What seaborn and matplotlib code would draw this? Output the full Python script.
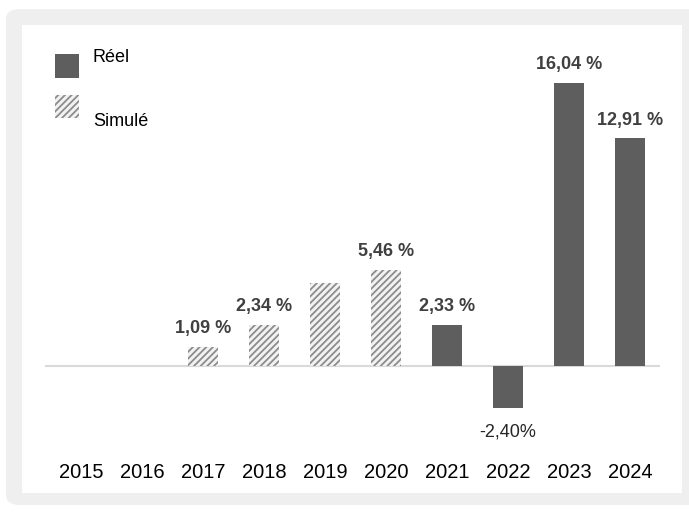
import matplotlib
matplotlib.use("Agg")
import matplotlib.pyplot as plt
import seaborn as sns
import pandas as pd
import numpy as np
from matplotlib.patches import FancyBboxPatch, Rectangle

years = ["2015", "2016", "2017", "2018", "2019", "2020", "2021", "2022", "2023", "2024"]
values = [0.0, 0.0, 1.09, 2.34, 4.70, 5.46, 2.33, -2.40, 16.04, 12.91]
kinds = ["Simulé", "Simulé", "Simulé", "Simulé", "Simulé", "Simulé", "Réel", "Réel", "Réel", "Réel"]
labels = ["", "", "1,09 %", "2,34 %", "", "5,46 %", "2,33 %", "-2,40%", "16,04 %", "12,91 %"]

sns.set_theme(style="white")
plt.rcParams['font.family'] = ['Liberation Sans', 'DejaVu Sans']
plt.rcParams['hatch.linewidth'] = 1.3

W, H = 689, 515
fig = plt.figure(figsize=(W / 100, H / 100), dpi=100)
fig.patch.set_facecolor("white")

# background frame
frame = FancyBboxPatch((6 / W, 1 - 505 / H), (700 - 6) / W, (505 - 9) / H,
                       boxstyle="round,pad=0,rounding_size=0.02", transform=fig.transFigure,
                       facecolor="#efefef", edgecolor="none", zorder=-2)
fig.patches.append(frame)
inner = Rectangle((22 / W, 1 - 493 / H), (682 - 22) / W, (493 - 25) / H,
                  transform=fig.transFigure, facecolor="white", edgecolor="none", zorder=-1)
fig.patches.append(inner)

px_per_unit = 17.64
base_y = 366
ax_top, ax_bot = 40, 455
ax_left, ax_right = 45, 660
ax = fig.add_axes([ax_left / W, 1 - ax_bot / H, (ax_right - ax_left) / W, (ax_bot - ax_top) / H])
ax.set_facecolor("none")
ax.set_zorder(1)

df = pd.DataFrame({"year": years, "value": values, "kind": kinds})
dark = "#5e5e5e"
hatch_col = "#8c8c8c"
sns.barplot(data=df, x="year", y="value", hue="kind", order=years,
            hue_order=["Réel", "Simulé"], palette={"Réel": dark, "Simulé": "#f2f2f2"},
            dodge=False, width=0.49, legend=False, ax=ax, zorder=2)

# style bars
for bar in ax.patches:
    x = bar.get_x() + bar.get_width() / 2
    idx = int(round(x))
    if 0 <= idx < len(kinds) and kinds[idx] == "Simulé":
        bar.set_hatch("/////")
        bar.set_edgecolor(hatch_col)
        bar.set_linewidth(0)
    else:
        bar.set_edgecolor("none")
        bar.set_linewidth(0)

ymax = (base_y - ax_top) / px_per_unit
ymin = -(ax_bot - base_y) / px_per_unit
ax.set_ylim(ymin, ymax)
ax.set_xlim(-0.59, 9.49)
ax.axhline(0, color="#d9d9d9", lw=1.5, zorder=1)

for i, (v, lab) in enumerate(zip(values, labels)):
    if not lab:
        continue
    if v >= 0:
        ax.annotate(lab, (i, v), xytext=(0, 7), textcoords="offset points",
                    ha="center", va="bottom", fontsize=13, fontweight="bold", color="#404040")
    else:
        ax.annotate(lab, (i, v), xytext=(0, -11), textcoords="offset points",
                    ha="center", va="top", fontsize=13, color="#262626")

ax.set_yticks([])
ax.set_xlabel("")
ax.set_ylabel("")
ax.tick_params(axis="x", length=0, pad=6, labelsize=14.5, labelcolor="#000000")
for s in ax.spines.values():
    s.set_visible(False)

# legend
fig.patches.append(Rectangle((55 / W, 1 - 78 / H), 24 / W, 24 / H, transform=fig.transFigure,
                             facecolor=dark, edgecolor="none", zorder=3))
fig.patches.append(Rectangle((55 / W, 1 - 118 / H), 24 / W, 23 / H, transform=fig.transFigure,
                             facecolor="#f2f2f2", edgecolor=hatch_col, linewidth=0,
                             hatch="/////", zorder=3))
fig.text(92 / W, 1 - 58 / H, "Réel", fontsize=13, va="center", ha="left", color="#000000")
fig.text(93 / W, 1 - 122 / H, "Simulé", fontsize=13, va="center", ha="left", color="#000000")

fig.savefig("out.png", dpi=100)
